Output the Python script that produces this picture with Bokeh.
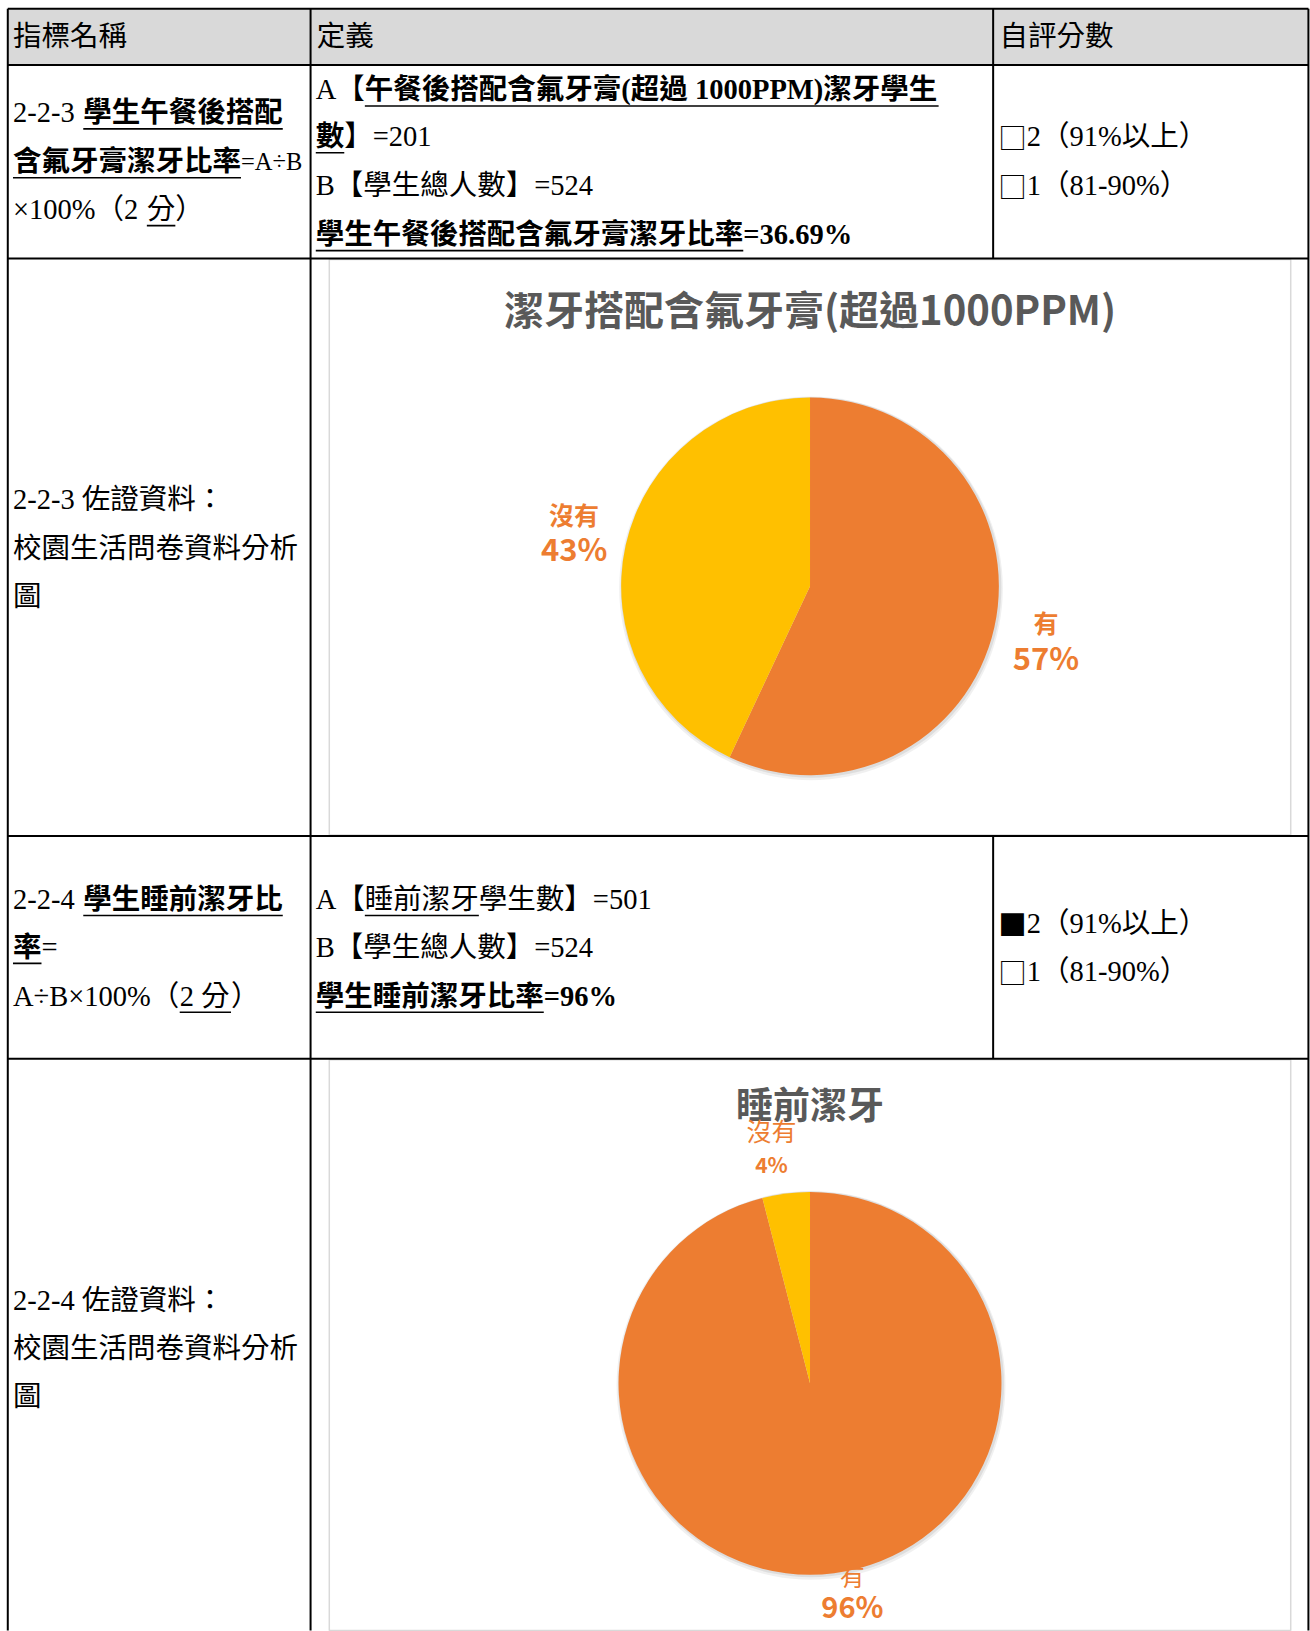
import math
from bokeh.plotting import figure
from bokeh.models import Range1d
from bokeh.core.properties import value
from bokeh.embed import file_html
from bokeh.resources import INLINE

# ---------------- data ----------------
pie_categories = ["有", "沒有"]
pie1_values = [57, 43]
pie2_values = [96, 4]
pie1_title = "潔牙搭配含氟牙膏(超過1000PPM)"
pie2_title = "睡前潔牙"
header_labels = ["指標名稱", "定義", "自評分數"]

# text segments: (text, bold, underline)
row1_name = [[("2-2-3 ", 0, 0), ("學生午餐後搭配", 1, 1)],
             [("含氟牙膏潔牙比率", 1, 1), ("=A÷B", 0, 0)],
             [("×100%（2 ", 0, 0), ("分", 0, 1), ("）", 0, 0)]]
row1_def = [[("A【", 0, 0), ("午餐後搭配含氟牙膏(超過 1000PPM)潔牙學生", 1, 1)],
            [("數", 1, 1), ("】=201", 0, 0)],
            [("B【學生總人數】=524", 0, 0)],
            [("學生午餐後搭配含氟牙膏潔牙比率", 1, 1), ("=36.69%", 1, 0)]]
row1_score = [[("□", 0, 0), ("2（91%以上）", 0, 0)],
              [("□", 0, 0), ("1（81-90%）", 0, 0)]]
row2_name = [[("2-2-3 佐證資料：", 0, 0)],
             [("校園生活問卷資料分析", 0, 0)],
             [("圖", 0, 0)]]
row3_name = [[("2-2-4 ", 0, 0), ("學生睡前潔牙比", 1, 1)],
             [("率", 1, 1), ("=", 0, 0)],
             [("A÷B×100%（", 0, 0), ("2 分", 0, 1), ("）", 0, 0)]]
row3_def = [[("A【", 0, 0), ("睡前潔牙", 0, 1), ("學生數】=501", 0, 0)],
            [("B【學生總人數】=524", 0, 0)],
            [("學生睡前潔牙比率", 1, 1), ("=96%", 1, 0)]]
row3_score = [[("■", 0, 0), ("2（91%以上）", 0, 0)],
              [("□", 0, 0), ("1（81-90%）", 0, 0)]]
row4_name = [[("2-2-4 佐證資料：", 0, 0)],
             [("校園生活問卷資料分析", 0, 0)],
             [("圖", 0, 0)]]

# ---------------- layout ----------------
W, H = 1310, 1631
K = 1310 / 1259.0
FONT = "Liberation Serif, Noto Sans CJK TC"
CJK = "Noto Sans CJK TC"
TS = 28.5
SIZE_OVERRIDE = {"=A÷B": 24.5}
ORANGE, YELLOW = "#ED7D31", "#FFC000"


def fx(v):
    return min(max(v * K, 1), W - 1)


def fy(v):
    return min(max(H - v * K, 1), H - 1)


REG = {'-': .333, '=': .564, '%': .833, '.': .25, '(': .333, ')': .333, ' ': .30,
       'A': .722, 'B': .667, 'P': .556, 'M': .889, '×': .564, '÷': .564}
BLD = {'-': .333, '=': .570, '%': 1.0, '.': .25, '(': .333, ')': .333, ' ': .30,
       'A': .722, 'B': .667, 'P': .611, 'M': .944}


def tw(s, size, bold):
    tab = BLD if bold else REG
    w = 0.0
    for ch in s:
        if ord(ch) >= 0x2000:
            w += 1.0
        elif ch.isdigit():
            w += 0.5
        else:
            w += tab.get(ch, 0.5)
    return w * size


p = figure(width=W, height=H, x_range=Range1d(0, W), y_range=Range1d(0, H),
           output_backend="svg", toolbar_location=None, min_border=0,
           x_axis_type=None, y_axis_type=None)
p.grid.visible = False
p.outline_line_color = None
p.background_fill_color = "white"

# header fill
p.quad(left=[fx(7)], right=[fx(1257)], top=[fy(8)], bottom=[fy(62)],
       fill_color="#d9d9d9", line_color=None)

# chart frames
p.quad(left=[fx(316)], right=[fx(1240)], top=[fy(249)], bottom=[fy(802)],
       fill_color="white", line_color="#d9d9d9", line_width=1.5)
p.quad(left=[fx(316)], right=[fx(1240)], top=[fy(1018)], bottom=[fy(1640)],
       fill_color="white", line_color="#d9d9d9", line_width=1.5)

# table grid lines
hys = [8, 62, 248, 803, 1017]
p.segment(x0=[fx(7)] * len(hys), x1=[fx(1257)] * len(hys),
          y0=[fy(v) for v in hys], y1=[fy(v) for v in hys],
          line_color="black", line_width=2)
vxs = [(7, 8, 1640), (298, 8, 1640), (954, 8, 248), (954, 803, 1017), (1257, 8, 1640)]
p.segment(x0=[fx(a) for a, _, _ in vxs], x1=[fx(a) for a, _, _ in vxs],
          y0=[fy(b) for _, b, _ in vxs], y1=[fy(c) for _, _, c in vxs],
          line_color="black", line_width=2)


def draw_block(lines, xs, ys, size=TS):
    for line, y in zip(lines, ys):
        x = fx(xs)
        yy = fy(y)
        for txt, b, u in line:
            font = CJK if txt in ("□", "■") else FONT
            sz = SIZE_OVERRIDE.get(txt, size)
            p.text(x=[x], y=[yy], text=[txt], text_font=value(font),
                   text_font_size=f"{sz}px",
                   text_font_style="bold" if b else "normal",
                   text_baseline="middle", text_align="left", text_color="black")
            w = tw(txt, sz, b)
            if u:
                p.segment(x0=[x], x1=[x + w], y0=[yy - 16], y1=[yy - 16],
                          line_color="black", line_width=1.6)
            x += w


# header
for lab, xx in zip(header_labels, [12, 304, 960]):
    draw_block([[(lab, 0, 0)]], xx, [35])

draw_block(row1_name, 12, [108, 155, 201])
draw_block(row1_def, 303, [86, 131, 178, 225])
draw_block(row1_score, 959, [131, 178])
draw_block(row2_name, 12, [480, 527, 573])
draw_block(row3_name, 12, [864, 910, 957])
draw_block(row3_def, 303, [864, 910, 957])
draw_block(row3_score, 959, [887, 933])
draw_block(row4_name, 12, [1249, 1296, 1342])


def draw_pie(vals, cx, cy, r, dists, offs, name_sizes, pct_sizes, name_bold, gap):
    total = float(sum(vals))
    cxp, cyp = fx(cx), fy(cy)
    rp = r * K
    # soft shadow
    p.circle(x=[cxp + 1], y=[cyp - 2], radius=rp + 3, fill_color="black",
             fill_alpha=0.06, line_color=None)
    p.circle(x=[cxp + 1], y=[cyp - 1], radius=rp + 1.5, fill_color="black",
             fill_alpha=0.08, line_color=None)
    cum = 0.0
    starts, ends, mids = [], [], []
    for v in vals:
        f = v / total
        a0 = math.pi / 2 - 2 * math.pi * cum
        a1 = math.pi / 2 - 2 * math.pi * (cum + f)
        starts.append(a1)
        ends.append(a0)
        mids.append((a0 + a1) / 2)
        cum += f
    p.wedge(x=[cxp] * len(vals), y=[cyp] * len(vals), radius=rp,
            start_angle=starts, end_angle=ends, direction="anticlock",
            fill_color=[ORANGE, YELLOW][:len(vals)], line_color=None)
    for i, v in enumerate(vals):
        d = dists[i] * rp
        lx = cxp + d * math.cos(mids[i]) + offs[i][0]
        ly = cyp + d * math.sin(mids[i]) + offs[i][1]
        p.text(x=[lx], y=[ly + gap[i]], text=[pie_categories[i]],
               text_font=value(CJK), text_font_size=f"{name_sizes[i]}px",
               text_font_style="bold" if name_bold else "normal",
               text_align="center", text_baseline="middle", text_color=ORANGE)
        p.text(x=[lx], y=[ly - gap[i]], text=[f"{round(v / total * 100)}%"],
               text_font=value(CJK), text_font_size=f"{pct_sizes[i]}px",
               text_font_style="bold",
               text_align="center", text_baseline="middle", text_color=ORANGE)


# chart 1
p.text(x=[fx(778)], y=[fy(296)], text=[pie1_title], text_font=value(CJK),
       text_font_size="40px", text_font_style="bold", text_align="center",
       text_baseline="middle", text_color="#595959")
draw_pie(pie1_values, 778, 563, 181.5, [1.28, 1.28], [(0, 0), (0, 3)],
         [25, 25], [31, 31], True, [17, 17])

# chart 2
p.text(x=[fx(778)], y=[fy(1060)], text=[pie2_title], text_font=value(CJK),
       text_font_size="37px", text_font_style="bold", text_align="center",
       text_baseline="middle", text_color="#595959")
draw_pie(pie2_values, 778, 1329, 184, [1.14, 1.23], [(15, 10), (-9, 3)],
         [25, 25], [29, 21], False, [15, 17])

open("out.html", "w").write(file_html(p, INLINE))
